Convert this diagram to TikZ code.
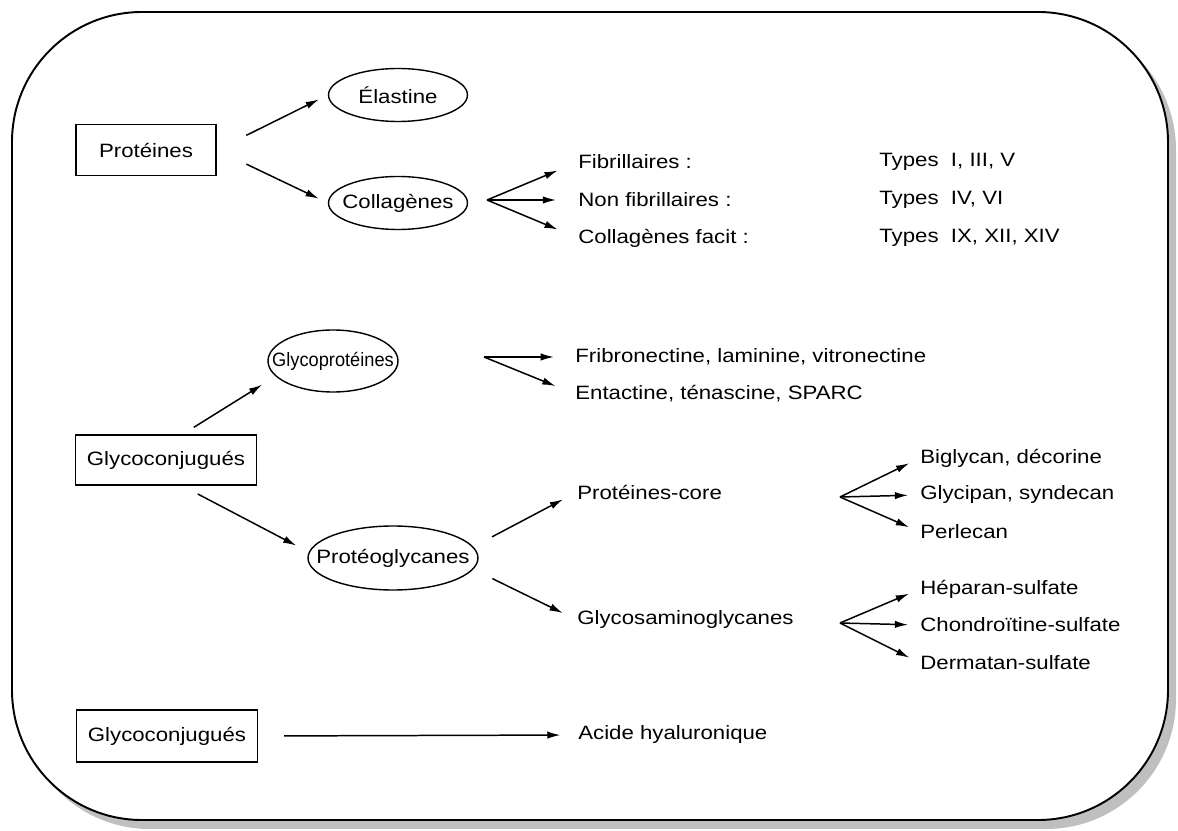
\documentclass[tikz,border=0pt]{standalone}
\usepackage{fontspec}
\setmainfont{Liberation Sans}[FakeStretch=1.15]
\usetikzlibrary{shapes.geometric,arrows.meta}
\newcommand{\inell}[1]{\makebox[0pt]{#1}}

\begin{document}
\begin{tikzpicture}[x=0.02cm,y=-0.02cm,
    font=\fontsize{11}{13}\selectfont,
    box/.style={draw,line width=0.9pt,inner sep=0pt,minimum width=3.62cm,minimum height=1cm},
    ell/.style={draw,ellipse,line width=0.8pt,inner sep=0pt,minimum width=2.78cm,minimum height=1.06cm},
    item/.style={anchor=west,inner sep=0pt},
    arr/.style={line width=0.85pt,-{Latex[length=7.5pt,width=4.2pt]}}]
    \useasboundingbox (0,0) rectangle (1178,831);
    % Frame with shadow
    \fill[black!25,rounded corners=2.6cm] (20,20) rectangle (1176,829);
    \draw[fill=white,line width=1.1pt,rounded corners=2.6cm] (12,12) rectangle (1168,820);
    % Proteins
    \node[box,minimum width=2.8cm,minimum height=1.02cm] (prot) at (146,150) {Protéines};
    \node[ell] (elas) at (398,95) {\inell{Élastine}};
    \node[ell] (coll) at (398,203) {\inell{Collagènes}};
    \draw[arr,shorten <=18.7pt,shorten >=5.7pt] (prot.east) -- (elas.west);
    \draw[arr,shorten <=18.7pt,shorten >=5.7pt] (prot.east) -- (coll.west);
    % Collagen types
    \coordinate (collfan) at (487,200);
    \node[item] (fib) at (578,162) {Fibrillaires :};
    \node[item] (nonfib) at (578,200) {Non fibrillaires :};
    \node[item] (facit) at (578,238) {Collagènes facit :};
    \node[item] (tfib) at (879,162) {Types\ \ I, III, V};
    \node[item] (tnonfib) at (879,200) {Types\ \ IV, VI};
    \node[item] (tfacit) at (879,238) {Types\ \ IX, XII, XIV};
    \foreach \t in {fib,nonfib,facit}
      \draw[arr,shorten >=12.5pt] (collfan) -- (\t.west);
    % Glycoconjugates
    \node[box] (glyc) at (166,460) {Glycoconjugués};
    \node[ell,minimum width=2.6cm,minimum height=1.24cm] (gp) at (333,361) {\inell{\scalebox{0.82}[1]{Glycoprotéines}}};
    \draw[arr,shorten <=7.4pt,shorten >=9pt] (glyc.57) -- (gp.195);
    \coordinate (gpfan) at (484,357);
    \node[item] (fibro) at (575,357) {Fribronectine, laminine, vitronectine};
    \node[item] (entac) at (575,394) {Entactine, ténascine, SPARC};
    \foreach \t in {fibro,entac}
      \draw[arr,shorten >=12pt] (gpfan) -- (\t.west);
    % Proteoglycans
    \node[ell,minimum width=3.4cm,minimum height=1.28cm] (pg) at (393,558) {\inell{Protéoglycanes}};
    \draw[arr,shorten <=10pt,shorten >=8pt] (glyc.-58) -- (pg.176);
    \node[item] (core) at (577,492) {Protéines-core};
    \node[item] (gag) at (577,620) {Glycosaminoglycanes};
    \draw[arr,shorten <=12pt,shorten >=9pt] (pg.8) -- (core.west);
    \draw[arr,shorten <=12pt,shorten >=9pt] (pg.-8) -- (gag.west);
    % Core proteins
    \coordinate (corefan) at (840,497);
    \node[item] (bigly) at (920,458) {Biglycan, décorine};
    \node[item] (glypi) at (920,495) {Glycipan, syndecan};
    \node[item] (perle) at (920,532) {Perlecan};
    \foreach \t in {bigly,glypi,perle}
      \draw[arr,shorten >=6.8pt] (corefan) -- (\t.west);
    % Glycosaminoglycans
    \coordinate (gagfan) at (840,623);
    \node[item] (hepar) at (920,589) {Héparan-sulfate};
    \node[item] (chond) at (920,625) {Chondroïtine-sulfate};
    \node[item] (derma) at (920,663) {Dermatan-sulfate};
    \foreach \t in {hepar,chond,derma}
      \draw[arr,shorten >=6.8pt] (gagfan) -- (\t.west);
    % Hyaluronic acid
    \node[box,minimum height=1.04cm] (glyc2) at (167,736) {Glycoconjugués};
    \node[item] (acide) at (578,735) {Acide hyaluronique};
    \draw[arr,shorten <=14.7pt,shorten >=10pt] (glyc2.east) -- (acide.west);
\end{tikzpicture}
\end{document}
